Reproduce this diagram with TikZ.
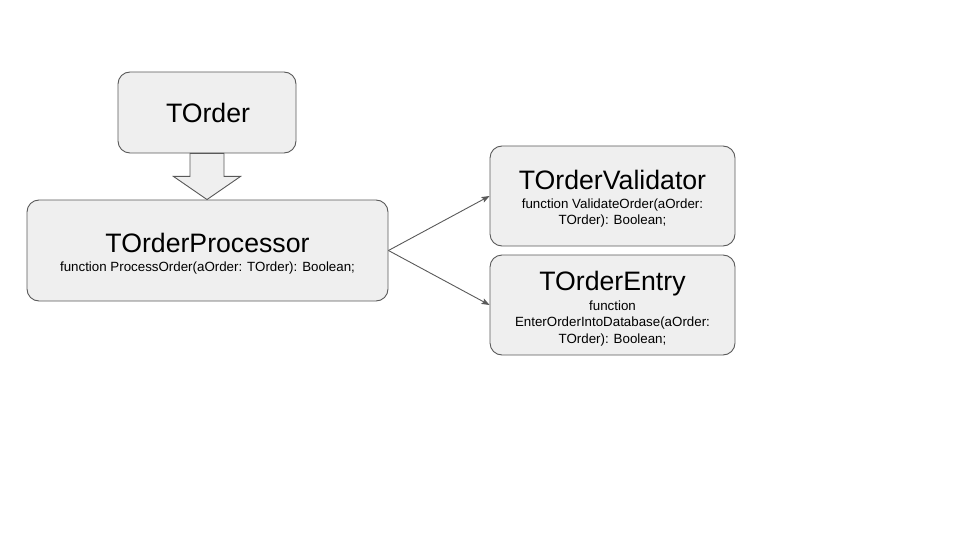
\documentclass[tikz,border=0pt]{standalone}
\usepackage{fontspec}
\setmainfont{Liberation Sans}
\usetikzlibrary{calc,arrows.meta}
\definecolor{boxfill}{HTML}{EFEFEF}
\definecolor{boxline}{HTML}{595959}
\tikzset{
  box/.style={draw=boxline, fill=boxfill, line width=0.9pt, rounded corners=12pt, inner sep=0pt},
  ttl/.style={anchor=base, inner sep=0pt, font=\fontsize{26.67}{30}\selectfont},
  sub/.style={anchor=base, inner sep=0pt, font=\fontsize{13.33}{16}\selectfont},
  link/.style={draw=boxline, line width=0.9pt, -{Stealth[length=8pt,width=6pt,inset=1.5pt]}},
  blockarrow/.style={draw=boxline, fill=boxfill, line width=0.9pt, line join=miter}
}
\begin{document}
\begin{tikzpicture}[x=1pt,y=-1pt]
\useasboundingbox (0,0) rectangle (960,540);
% boxes
\node[box, minimum width=178pt, minimum height=81pt] (torder) at (207,112.5) {};
\node[box, minimum width=361pt, minimum height=101pt] (proc) at (207.5,250.5) {};
\node[box, minimum width=245pt, minimum height=100pt] (valid) at (612.5,196) {};
\node[box, minimum width=245pt, minimum height=100pt] (entry) at (612.5,305) {};
% texts
\node[ttl] (torder-t) at (208,123) {TOrder};
\node[ttl] (proc-t) at (207.5,252.5) {TOrderProcessor};
\node[sub] (proc-s) at (207.5,271.5) {function ProcessOrder(aOrder: TOrder): Boolean;};
\node[ttl] (valid-t) at (612.5,189.5) {TOrderValidator};
\node[sub] (valid-s1) at (612.5,208) {function ValidateOrder(aOrder:};
\node[sub] (valid-s2) at (612.5,224.5) {TOrder): Boolean;};
\node[ttl] (entry-t) at (612.5,290) {TOrderEntry};
\node[sub] (entry-s1) at (612.5,310) {function};
\node[sub] (entry-s2) at (612.5,326.5) {EnterOrderIntoDatabase(aOrder:};
\node[sub] (entry-s3) at (612.5,343) {TOrder): Boolean;};
% block arrow from TOrder to TOrderProcessor
\path[blockarrow] ($(torder.south)+(-17,0)$) -- ($(torder.south)+(17,0)$)
  -- ($(torder.south)+(17,23)$) -- ($(torder.south)+(33.5,23)$)
  -- (torder.south |- proc.north) -- ($(torder.south)+(-33.5,23)$)
  -- ($(torder.south)+(-17,23)$) -- cycle;
% connectors
\draw[link] (proc.east) -- (valid.west);
\draw[link] (proc.east) -- (entry.west);
\end{tikzpicture}
\end{document}
